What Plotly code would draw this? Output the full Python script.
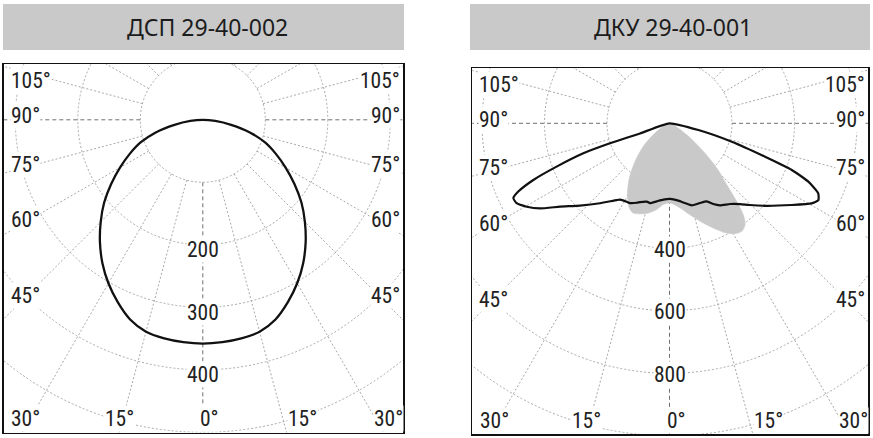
import numpy as np
import plotly.graph_objects as go

W, H = 873, 438

# ---------------- data ----------------
titles = ["ДСП 29-40-002", "ДКУ 29-40-001"]
angle_ticks = [105, 90, 75, 60, 45, 30, 15, 0]
angle_tick_text = ["105°", "90°", "75°", "60°", "45°", "30°", "15°", "0°"]
radial_ticks_dsp = [200, 300, 400]
radial_ticks_dku = [400, 600, 800]

# ДСП 29-40-002 : symmetric curve, angle from nadir (deg) -> intensity (cd)
dsp_angle = [0, 5, 10, 15, 20, 25, 30, 35, 40, 45, 50, 55, 60, 65, 70, 75, 80, 85, 90]
dsp_cd = [358, 357, 355, 351, 340, 322, 302, 280, 256, 231, 206, 179, 153, 129, 106, 78, 46, 20, 0]

# ДКУ 29-40-001 : transverse plane (black outline), signed angle (deg) -> cd
dku_c0_angle = [-90, -71.0, -71.4, -70.8, -69.0, -67.4, -65.7, -64.4, -62.4, -59.7, -56.7,
                -52.7, -47.4, -41.0, -34.5, -32.9, -28.6, -26.4, -22.4, -20.5, -16.2, -13.7,
                -9.3, -4.6, 0.4, 6.5, 11.0, 15.1, 20.9, 25.5, 28.5, 31.6, 36.9, 41.1, 44.4,
                49.2, 56.2, 60.6, 62.7, 64.8, 67.2, 69.1, 70.7, 73.5, 76.9, 90]
dku_c0_cd = [0, 100, 201, 292, 387, 472, 531, 554, 552, 529, 496,
             440, 389, 339, 298, 291, 286, 285, 275, 269, 261, 263,
             253, 245, 242, 249, 260, 272, 273, 277, 294, 308, 323, 343, 366,
             404, 470, 522, 536, 526, 482, 419, 324, 208, 95, 0]

# ДКУ 29-40-001 : longitudinal plane (grey area), signed angle (deg) -> cd
dku_c90_angle = [-90, -64.2, -54.9, -48.7, -42.2, -36.3, -30.6, -25.4, -22.0, -18.0, -13.3,
                 -8.4, -4.4, 0.4, 7.1, 12.6, 18.7, 23.9, 27.5, 30.7, 33.8, 36.7, 38.9,
                 40.7, 43.0, 46.6, 50.4, 56.5, 90]
dku_c90_cd = [0, 22, 63, 112, 164, 217, 265, 300, 310, 305, 295,
              279, 261, 255, 273, 300, 337, 372, 396, 411, 416, 405, 376,
              330, 269, 208, 140, 66, 0]

# ---------------- layout constants (pixels) ----------------
panels = [
    dict(frame=(3.5, 64.0, 403.0, 432.5), center=(202.8, 119.8), scale=0.625, ring=100,
         nring=7, box=(3, 4, 404, 50), tdx=4, radial=radial_ticks_dsp, rdy=5.0,
         ax="x", ay="y"),
    dict(frame=(472.3, 68.0, 868.3, 434.3), center=(669.5, 123.3), scale=0.3125, ring=200,
         nring=7, box=(470, 4, 870, 50), tdx=3, radial=radial_ticks_dku, rdy=1.0,
         ax="x2", ay="y2"),
]

LABEL_FONT = dict(family="Liberation Sans Narrow, Roboto Condensed, Roboto, sans-serif",
                  size=21.5, color="#222222")
TITLE_FONT = dict(family="Noto Sans, Open Sans, sans-serif", size=23, color="#1c1c1c")
GRID = dict(color="#a8a8a8", width=1, dash="2px,2px")
AXISGRID = dict(color="#707070", width=1, dash="4px,3px")


def polar_xy(angles, cds):
    a = np.radians(np.asarray(angles, dtype=float))
    r = np.asarray(cds, dtype=float)
    return r * np.sin(a), -r * np.cos(a)


def px(x):
    return x / W


def py(y):
    return 1 - y / H


fig = go.Figure()
shapes = []
annotations = []
layout_axes = {}

for i, p in enumerate(panels):
    fx0, fy0, fx1, fy1 = p["frame"]
    cx, cy = p["center"]
    s = p["scale"]
    axn = "xaxis" if i == 0 else "xaxis2"
    ayn = "yaxis" if i == 0 else "yaxis2"
    common = dict(showline=True, mirror=True, linecolor="#111111", linewidth=1.5,
                  showgrid=False, zeroline=False, showticklabels=False, ticks="",
                  fixedrange=True)
    layout_axes[axn] = dict(domain=[px(fx0), px(fx1)],
                            range=[(fx0 - cx) / s, (fx1 - cx) / s],
                            anchor=p["ay"], **common)
    layout_axes[ayn] = dict(domain=[py(fy1), py(fy0)],
                            range=[-(fy1 - cy) / s, -(fy0 - cy) / s],
                            anchor=p["ax"], **common)

    # concentric rings
    for k in range(1, p["nring"] + 1):
        r = k * p["ring"]
        shapes.append(dict(type="circle", xref=p["ax"], yref=p["ay"], x0=-r, x1=r, y0=-r, y1=r,
                           line=GRID, layer="below"))
    # rays every 15 degrees, starting from the first ring
    r0 = p["ring"]
    r1 = p["ring"] * 10
    for a in range(-165, 181, 15):
        ar = np.radians(a)
        style = AXISGRID if a in (0, 90, -90) else GRID
        shapes.append(dict(type="line", xref=p["ax"], yref=p["ay"],
                           x0=r0 * np.sin(ar), y0=-r0 * np.cos(ar),
                           x1=r1 * np.sin(ar), y1=-r1 * np.cos(ar),
                           line=style, layer="below"))

    # title box and title
    bx0, by0, bx1, by1 = p["box"]
    shapes.append(dict(type="rect", xref="paper", yref="paper", x0=px(bx0), x1=px(bx1),
                       y0=py(by1), y1=py(by0), fillcolor="#c9c9c9", line=dict(width=0)))
    annotations.append(dict(text=titles[i], x=px((bx0 + bx1) / 2 + p["tdx"]), y=py(27.5),
                            xref="paper", yref="paper", showarrow=False, font=TITLE_FONT,
                            xanchor="center", yanchor="middle"))

    # angle labels
    for a, txt in zip(angle_ticks, angle_tick_text):
        ar = np.radians(a)
        if a == 0:
            annotations.append(dict(text=txt, x=px(cx - 3.5), y=py(fy1 - 14), xref="paper",
                                    yref="paper", showarrow=False, font=LABEL_FONT,
                                    xanchor="left", yanchor="middle", bgcolor="white",
                                    borderpad=0))
            continue
        for side in (-1, 1):
            if a >= 45:
                yy = cy + 180 * np.cos(ar) / np.sin(ar) - 4
                yy = min(max(yy, fy0 + 16), fy1 - 14)
                if side < 0:
                    xx, anc = fx0 + 6, "left"
                else:
                    xx, anc = fx1 - 2, "right"
            else:
                yy = fy1 - 14
                hx = cx + side * (fy1 - cy) * np.tan(ar)
                if side < 0:
                    xx, anc = max(hx, fx0 + 22), "center"
                else:
                    xx, anc = min(hx, fx1 - 30), "left"
            annotations.append(dict(text=txt, x=px(xx), y=py(yy), xref="paper", yref="paper",
                                    showarrow=False, font=LABEL_FONT, xanchor=anc,
                                    yanchor="middle", bgcolor="white", borderpad=0))

    # radial labels along 0 deg
    for v in p["radial"]:
        annotations.append(dict(text=str(v), x=0, y=-v - p["rdy"] / s, xref=p["ax"],
                                yref=p["ay"], showarrow=False, font=LABEL_FONT,
                                xanchor="center", yanchor="middle", bgcolor="white",
                                borderpad=0))

# ---------------- curves ----------------
dsp_full_angle = [-a for a in dsp_angle[::-1]] + dsp_angle[1:]
dsp_full_cd = dsp_cd[::-1] + dsp_cd[1:]
x, y = polar_xy(dsp_full_angle, dsp_full_cd)
fig.add_trace(go.Scatter(x=x, y=y, mode="lines", xaxis="x", yaxis="y",
                         line=dict(color="#111111", width=2.3, shape="spline", smoothing=1),
                         hoverinfo="skip", showlegend=False))

x, y = polar_xy(dku_c90_angle, dku_c90_cd)
fig.add_trace(go.Scatter(x=x, y=y, mode="lines", xaxis="x2", yaxis="y2", fill="toself",
                         fillcolor="#c9c9c9",
                         line=dict(color="#c9c9c9", width=0.5, shape="spline", smoothing=0.8),
                         hoverinfo="skip", showlegend=False))

x, y = polar_xy(dku_c0_angle, dku_c0_cd)
fig.add_trace(go.Scatter(x=x, y=y, mode="lines", xaxis="x2", yaxis="y2",
                         line=dict(color="#111111", width=2.2, shape="spline", smoothing=0.5),
                         hoverinfo="skip", showlegend=False))

fig.update_layout(width=W, height=H, margin=dict(l=0, r=0, t=0, b=0),
                  paper_bgcolor="white", plot_bgcolor="white", showlegend=False,
                  shapes=shapes, annotations=annotations, **layout_axes)

fig.write_html("out.html", config={"displayModeBar": False, "staticPlot": True},
               post_script="document.body.style.margin='0px';")
